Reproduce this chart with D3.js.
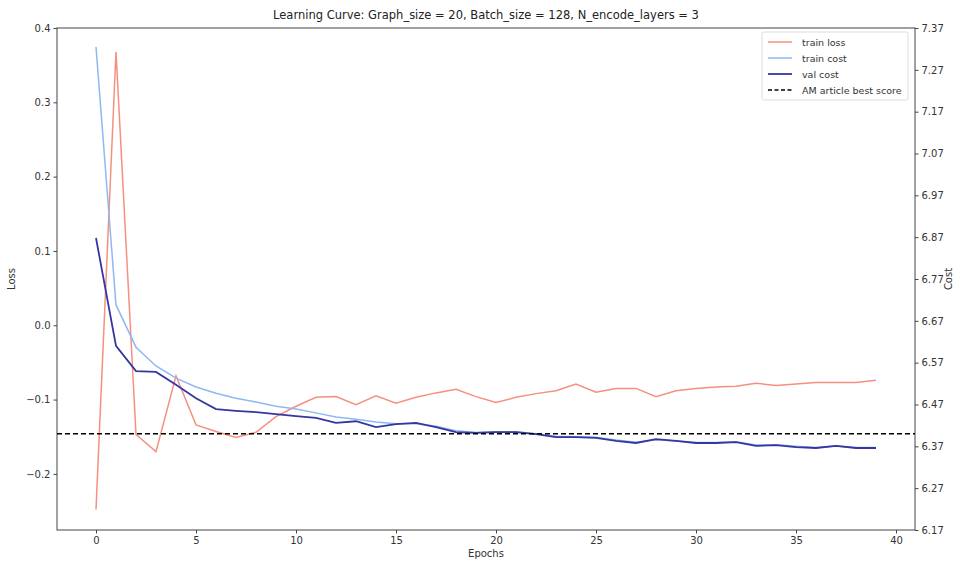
<!DOCTYPE html>
<html>
<head>
<meta charset="utf-8">
<script src="https://cdn.jsdelivr.net/npm/d3@7"></script>
<style>
  body { margin: 0; background: #fff; }
  text { font-family: "DejaVu Sans", sans-serif; }
</style>
</head>
<body>
<svg id="chart" width="957" height="561"></svg>
<script>
const epochs = d3.range(0, 40);
const trainLoss = [-0.248, 0.368, -0.147, -0.170, -0.068, -0.134, -0.143, -0.151, -0.144, -0.123,
  -0.109, -0.097, -0.096, -0.107, -0.095, -0.105, -0.097, -0.091, -0.086, -0.096,
  -0.104, -0.097, -0.092, -0.088, -0.079, -0.090, -0.085, -0.085, -0.096, -0.088,
  -0.085, -0.083, -0.082, -0.078, -0.081, -0.079, -0.077, -0.077, -0.077, -0.074];
const trainCost = [7.325, 6.708, 6.607, 6.562, 6.533, 6.512, 6.497, 6.485, 6.476, 6.466,
  6.459, 6.450, 6.440, 6.435, 6.428, 6.424, 6.424, 6.418, 6.407, 6.403,
  6.405, 6.405, 6.400, 6.394, 6.393, 6.392, 6.385, 6.380, 6.386, 6.383,
  6.379, 6.379, 6.381, 6.373, 6.374, 6.370, 6.367, 6.371, 6.367, 6.367];
const valCost = [6.868, 6.610, 6.550, 6.548, 6.517, 6.485, 6.459, 6.455, 6.452, 6.447,
  6.442, 6.438, 6.426, 6.430, 6.416, 6.423, 6.426, 6.416, 6.404, 6.402,
  6.404, 6.404, 6.399, 6.392, 6.392, 6.390, 6.383, 6.378, 6.387, 6.383,
  6.378, 6.378, 6.380, 6.371, 6.373, 6.368, 6.366, 6.371, 6.366, 6.366];
const bestScore = 6.40;
const xTicks = [0, 5, 10, 15, 20, 25, 30, 35, 40];
const lossTicks = [-0.2, -0.1, 0.0, 0.1, 0.2, 0.3, 0.4];
const costTicks = [6.17, 6.27, 6.37, 6.47, 6.57, 6.67, 6.77, 6.87, 6.97, 7.07, 7.17, 7.27, 7.37];
const titleText = "Learning Curve: Graph_size = 20, Batch_size = 128, N_encode_layers = 3";
const legendLabels = ["train loss", "train cost", "val cost", "AM article best score"];

const colors = { loss: "#f59080", tcost: "#8fb8f2", vcost: "#3636a0", best: "#000" };

const m = { left: 57, right: 915, top: 28, bottom: 530 };
const svg = d3.select("#chart");

const x = d3.scaleLinear().domain([-1.95, 40.95]).range([m.left, m.right]);
const yL = d3.scaleLinear().domain([-0.2755, 0.4]).range([m.bottom, m.top]);
const yR = d3.scaleLinear().domain([6.17, 7.37]).range([m.bottom, m.top]);

const fmtLoss = v => (v < 0 ? "\u2212" : "") + Math.abs(v).toFixed(1);

// axes
const axisColor = "#444";
const gx = svg.append("g").attr("transform", `translate(0,${m.bottom})`)
  .call(d3.axisBottom(x).tickValues(xTicks).tickFormat(d3.format("d")).tickSizeOuter(0).tickSize(3.5));
const gyL = svg.append("g").attr("transform", `translate(${m.left},0)`)
  .call(d3.axisLeft(yL).tickValues(lossTicks).tickFormat(fmtLoss).tickSizeOuter(0).tickSize(3.5));
const gyR = svg.append("g").attr("transform", `translate(${m.right},0)`)
  .call(d3.axisRight(yR).tickValues(costTicks).tickFormat(d3.format(".2f")).tickSizeOuter(0).tickSize(3.5));
[gx, gyL, gyR].forEach(g => {
  g.select(".domain").remove();
  g.selectAll("line").attr("stroke", axisColor);
  g.selectAll("text").attr("font-size", 10).attr("fill", "#333");
});
// frame spines
svg.append("rect").attr("x", m.left).attr("y", m.top)
  .attr("width", m.right - m.left).attr("height", m.bottom - m.top)
  .attr("fill", "none").attr("stroke", axisColor).attr("stroke-width", 1);

// lines
const lineL = d3.line().x((d, i) => x(epochs[i])).y(d => yL(d));
const lineR = d3.line().x((d, i) => x(epochs[i])).y(d => yR(d));

svg.append("path").datum(trainLoss).attr("d", lineL)
  .attr("fill", "none").attr("stroke", colors.loss).attr("stroke-width", 1.5);
svg.append("path").datum(trainCost).attr("d", lineR)
  .attr("fill", "none").attr("stroke", colors.tcost).attr("stroke-width", 1.5);
svg.append("path").datum(valCost).attr("d", lineR)
  .attr("fill", "none").attr("stroke", colors.vcost).attr("stroke-width", 1.8);
svg.append("line").attr("x1", m.left).attr("x2", m.right)
  .attr("y1", yR(bestScore)).attr("y2", yR(bestScore))
  .attr("stroke", colors.best).attr("stroke-width", 1.4).attr("stroke-dasharray", "5,3");

// labels
svg.append("text").attr("x", (m.left + m.right) / 2).attr("y", 19)
  .attr("text-anchor", "middle").attr("font-size", 11.5).attr("fill", "#222").text(titleText);
svg.append("text").attr("x", (m.left + m.right) / 2).attr("y", 557)
  .attr("text-anchor", "middle").attr("font-size", 10).attr("fill", "#333").text("Epochs");
svg.append("text").attr("transform", `translate(15,${(m.top + m.bottom) / 2}) rotate(-90)`)
  .attr("text-anchor", "middle").attr("font-size", 10).attr("fill", "#333").text("Loss");
svg.append("text").attr("transform", `translate(952,${(m.top + m.bottom) / 2}) rotate(-90)`)
  .attr("text-anchor", "middle").attr("font-size", 10).attr("fill", "#333").text("Cost");

// legend
const lg = svg.append("g");
lg.append("rect").attr("x", 762).attr("y", 32).attr("width", 146).attr("height", 68)
  .attr("rx", 2).attr("fill", "#fff").attr("fill-opacity", 0.8).attr("stroke", "#ddd");
const lstyles = [
  { c: colors.loss, w: 1.5, d: null },
  { c: colors.tcost, w: 1.5, d: null },
  { c: colors.vcost, w: 1.8, d: null },
  { c: colors.best, w: 1.4, d: "4,2.5" }
];
legendLabels.forEach((lab, i) => {
  const yy = 42 + i * 16;
  lg.append("line").attr("x1", 768).attr("x2", 792).attr("y1", yy).attr("y2", yy)
    .attr("stroke", lstyles[i].c).attr("stroke-width", lstyles[i].w)
    .attr("stroke-dasharray", lstyles[i].d);
  lg.append("text").attr("x", 802).attr("y", yy + 3.5).attr("font-size", 9.5)
    .attr("fill", "#333").text(lab);
});
</script>
</body>
</html>
